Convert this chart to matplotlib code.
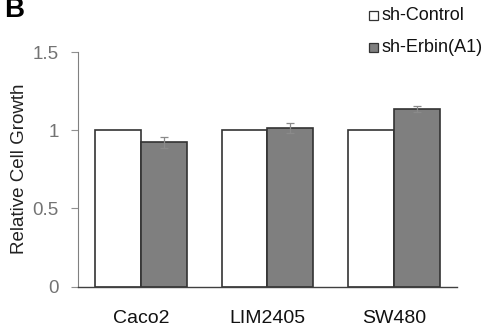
import matplotlib
matplotlib.use("Agg")
import matplotlib.pyplot as plt
import numpy as np
from matplotlib.patches import Rectangle

categories = ["Caco2", "LIM2405", "SW480"]
control = [1.0, 1.0, 1.0]
erbin = [0.923, 1.013, 1.137]
erbin_err = [0.036, 0.031, 0.018]
series_names = ["sh-Control", "sh-Erbin(A1)"]
yticks = [0, 0.5, 1, 1.5]
ytick_labels = ["0", "0.5", "1", "1.5"]

plt.rcParams['font.family'] = ['Liberation Sans', 'DejaVu Sans']
W, H = 483, 329
fig = plt.figure(figsize=(W/100, H/100), dpi=100)
ax = fig.add_axes([78/W, 1-286.7/H, 379/W, (286.7-52)/H])

x = np.arange(len(categories))
bw = 0.364
ax.bar(x - bw/2, control, bw, color="white", edgecolor="#333333", linewidth=1.2, zorder=2)
ax.bar(x + bw/2, erbin, bw, color="#7f7f7f", edgecolor="#333333", linewidth=1.2, zorder=2)
ax.errorbar(x + bw/2, erbin, yerr=erbin_err, fmt="none", ecolor="#8a8a8a", elinewidth=0.9, capsize=3, capthick=0.9, zorder=3)

ax.set_xlim(-0.5, 2.5)
ax.set_ylim(0, 1.5)
ax.set_yticks(yticks)
ax.set_yticklabels(ytick_labels, color="#737373", fontsize=13.5)
ax.set_xticks(x)
ax.set_xticklabels(categories, fontsize=14, color="#111111")
ax.tick_params(axis="x", length=0, pad=17)
ax.tick_params(axis="y", length=5, width=0.8, color="#909090", pad=9)
for s in ["top", "right"]:
    ax.spines[s].set_visible(False)
ax.spines["left"].set_color("#808080")
ax.spines["bottom"].set_color("#404040")
ax.spines["left"].set_linewidth(0.8)
ax.spines["bottom"].set_linewidth(1.0)

fig.text(20/W, 1-169/H, "Relative Cell Growth", fontsize=13.5, color="#222222",
         rotation=90, ha="center", va="center")

fig.text(4/W, 1-17/H, "B", fontsize=20, fontweight="bold", va="baseline", ha="left")

# legend
leg_colors = ["white", "#7f7f7f"]
leg_y = [15, 47]
for name, c, yy in zip(series_names, leg_colors, leg_y):
    fig.patches.append(Rectangle((369/W, 1-(yy+4.5)/H), 9/W, 9/H, transform=fig.transFigure,
                                 facecolor=c, edgecolor="#333333", linewidth=0.9))
    fig.text(381/W, 1-yy/H, name, fontsize=13, va="center", ha="left", color="#111111")

fig.savefig("out.png", dpi=100)
